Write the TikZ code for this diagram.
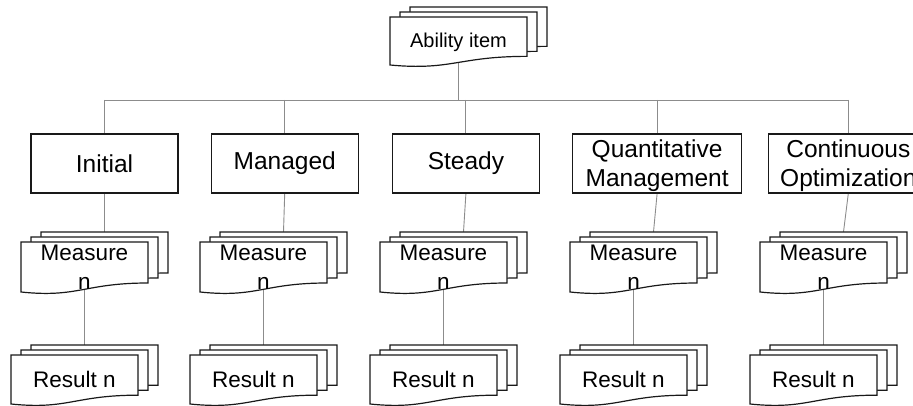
\documentclass[tikz,border=0pt]{standalone}
\usepackage{fontspec}
\setmainfont{Liberation Sans}
\usetikzlibrary{positioning,backgrounds}

\tikzset{
  link/.style={draw=black!45, line width=0.9pt},
  page/.style={draw=black!90, fill=white, line width=1.2pt},
  level/.style={
    shape=rectangle,
    draw=black!90,
    fill=white,
    line width=1.2pt,
    minimum width=147pt,
    minimum height=59pt,
    inner sep=0pt,
    align=center,
    font=\fontsize{24.5}{29}\selectfont,
  },
  doctext/.style={
    inner sep=0pt,
    align=center,
    font=\fontsize{22.5}{29}\selectfont,
  },
}

% stack of three document pages: name, x, y, width, height, options, text
\newcommand{\docstack}[7]{%
  \foreach \k in {2,1,0} {
    \filldraw[page] ({#2+10*\k},{#3-5*\k}) -- ++(#4,0) -- ++(0,{0.82*#5})
      .. controls +({-0.5*#4},0) and +({0.45*#4},{0.12*#5}) .. ({#2+10*\k},{#3-5*\k+#5}) -- cycle;
  }
  \coordinate (#1-top) at ({#2+20+0.5*#4},{#3-10});
  \coordinate (#1-bot) at ({#2+0.5*#4},{#3+0.95*#5});
  \node[doctext,#6] (#1) at ({#2+0.5*#4},{#3+0.5*#5}) {#7};
}

\begin{document}
\begin{tikzpicture}[x=1pt, y=-1pt]
  \useasboundingbox (0,0) rectangle (913,406);
  \clip (0,0) rectangle (913,406);

  % top item
  \docstack{ability}{390}{17}{137}{48}{font=\fontsize{20}{24}\selectfont, yshift=-1.5pt}{Ability item}

  % levels
  \node[level] (initial) at (104.5,163.5) {Initial};
  \node[level, right=32pt of initial] (managed) {Managed};
  \node[level, right=33pt of managed] (steady) {Steady};
  \node[level, right=32pt of steady, minimum width=169pt] (quant) {Quantitative\\\smash{Management}};
  \node[level, right=26pt of quant, minimum width=159pt] (contin) {Continuous\\\smash{Optimization}};

  % measures and results
  \foreach \c [count=\i] in {104.5,283.5,463.5,653.5,843.5} {
    \docstack{meas\i}{\c-83.5}{242}{127}{50}{}{Measure\\n}
    \docstack{res\i}{\c-93.5}{355}{127}{49}{}{Result n}
  }

  \begin{scope}[on background layer]
    \coordinate (bus) at (0,100);
    \draw[link] (ability-bot) -- (ability-bot |- bus);
    \draw[link] (initial.north |- bus) -- (contin.north |- bus);
    \foreach \n [count=\i] in {initial,managed,steady,quant,contin} {
      \draw[link] (\n.north |- bus) -- (\n.north);
      \draw[link] (\n.south) -- (meas\i-top);
      \draw[link] (meas\i-bot) -- (meas\i-bot |- res\i-top);
    }
  \end{scope}
\end{tikzpicture}
\end{document}
